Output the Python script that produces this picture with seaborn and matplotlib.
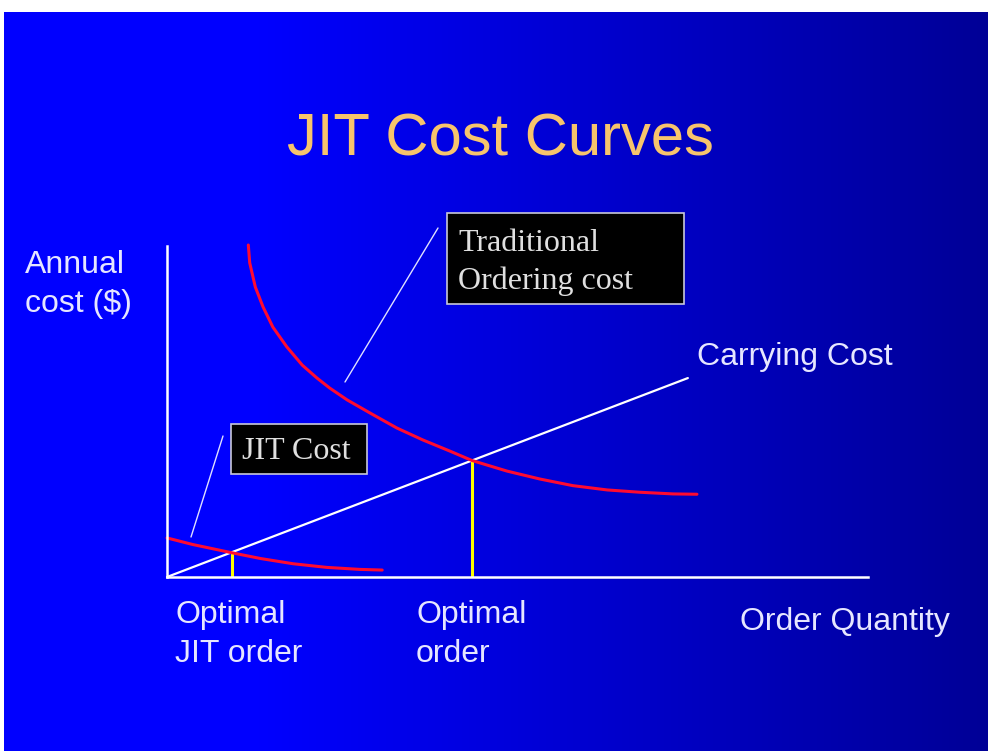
import numpy as np
import matplotlib
matplotlib.use("Agg")
import matplotlib.pyplot as plt
import seaborn as sns
from matplotlib.patches import Rectangle
from matplotlib.lines import Line2D

# Data (order quantity vs annual cost, arbitrary units)
carry_qty = [0, 74.3]
carry_cost = [0, 60.1]

trad_qty = [11.6, 11.8, 12.6, 13.7, 15.1, 17.1, 19.3, 21.4, 23.2, 25.7,
            29.0, 32.8, 36.5, 40.4, 43.5, 48.5, 53.2, 57.9, 62.8, 67.5,
            72.2, 75.6]
trad_cost = [100.3, 94.9, 87.6, 81.6, 75.5, 69.5, 64.0, 60.1, 57.1, 53.5,
             49.5, 45.0, 41.4, 38.0, 35.2, 32.0, 29.6, 27.6, 26.3, 25.6,
             25.1, 25.0]

jit_qty = [0, 3.7, 9.3, 13.3, 18.0, 22.8, 27.5, 30.7]
jit_cost = [11.8, 9.8, 7.3, 5.6, 4.0, 2.9, 2.3, 2.1]

optimal_qty = [9.3, 43.5]
optimal_cost = [7.4, 35.2]

W, H = 988, 751
sns.set_theme(style="white")
plt.rcParams["font.family"] = ["Liberation Sans", "DejaVu Sans"]

fig = plt.figure(figsize=(W / 100, H / 100), dpi=100, facecolor="white")


def fx(x):
    return x / W


def fy(y):
    return 1 - y / H


# gradient background
bg = fig.add_axes([fx(4), 0, 1 - fx(4), 1 - 12 / H])
cols = np.linspace(0, 1, 400)
blue = np.where(cols < 0.26, 1.0, 1.0 - (cols - 0.26) / 0.74 * 0.41)
grad = np.zeros((2, 400, 3))
grad[:, :, 2] = blue
bg.imshow(grad, aspect="auto", extent=[0, 1, 0, 1])
bg.set_axis_off()

# main axes
ax = fig.add_axes([fx(167), fy(577), (868 - 167) / W, (577 - 246) / H])
ax.set_facecolor("none")
ax.set_xlim(0, 100)
ax.set_ylim(0, 100)
for s in ["top", "right"]:
    ax.spines[s].set_visible(False)
for s in ["left", "bottom"]:
    ax.spines[s].set_color("white")
    ax.spines[s].set_linewidth(1.8)
ax.set_xticks([])
ax.set_yticks([])

sns.lineplot(x=carry_qty, y=carry_cost, ax=ax, color="white", linewidth=1.6)
ax.vlines(optimal_qty, 0, optimal_cost, color="#ffff00", linewidth=2.2)
sns.lineplot(x=trad_qty, y=trad_cost, ax=ax, color="#ff0a30", linewidth=2.2)
sns.lineplot(x=jit_qty, y=jit_cost, ax=ax, color="#ff0a30", linewidth=2.2)
for ln in ax.lines:
    ln.set_clip_on(False)
    ln.set_solid_joinstyle("round")

txt = "#e6e6ff"
fig.text(fx(500), fy(156), "JIT Cost Curves", color="#f7c46c", fontsize=43,
         ha="center", va="baseline")
fig.text(fx(25), fy(273), "Annual", color=txt, fontsize=23, va="baseline")
fig.text(fx(25), fy(312), "cost ($)", color=txt, fontsize=23, va="baseline")
fig.text(fx(697), fy(365), "Carrying Cost", color=txt, fontsize=23, va="baseline")
fig.text(fx(740), fy(630), "Order Quantity", color=txt, fontsize=23, va="baseline")
fig.text(fx(175), fy(623), "Optimal", color=txt, fontsize=23, va="baseline")
fig.text(fx(175), fy(662), "JIT order", color=txt, fontsize=23, va="baseline")
fig.text(fx(416), fy(623), "Optimal", color=txt, fontsize=23, va="baseline")
fig.text(fx(416), fy(662), "order", color=txt, fontsize=23, va="baseline")

# label boxes
for x0, y0, x1, y1 in [(447, 213, 684, 304), (231, 424, 367, 474)]:
    fig.patches.append(Rectangle((fx(x0), fy(y1)), fx(x1 - x0), (y1 - y0) / H,
                                 transform=fig.transFigure, facecolor="black",
                                 edgecolor="#c8c8d8", linewidth=1.2))
serif = ["Liberation Serif", "DejaVu Serif"]
fig.text(fx(458), fy(251), "Traditional", color="#e0e0e0", fontsize=23,
         family=serif, va="baseline")
fig.text(fx(458), fy(289), "Ordering cost", color="#e0e0e0", fontsize=23,
         family=serif, va="baseline")
fig.text(fx(242), fy(459), "JIT Cost", color="#e0e0e0", fontsize=23,
         family=serif, va="baseline")

# leader lines
for (xa, ya), (xb, yb) in [((345, 382), (438, 228)), ((191, 537), (223, 436))]:
    fig.lines.append(Line2D([fx(xa), fx(xb)], [fy(ya), fy(yb)],
                            transform=fig.transFigure, color="#e0e0ff", linewidth=1.0))

fig.savefig("out.png", dpi=100, facecolor="white")
